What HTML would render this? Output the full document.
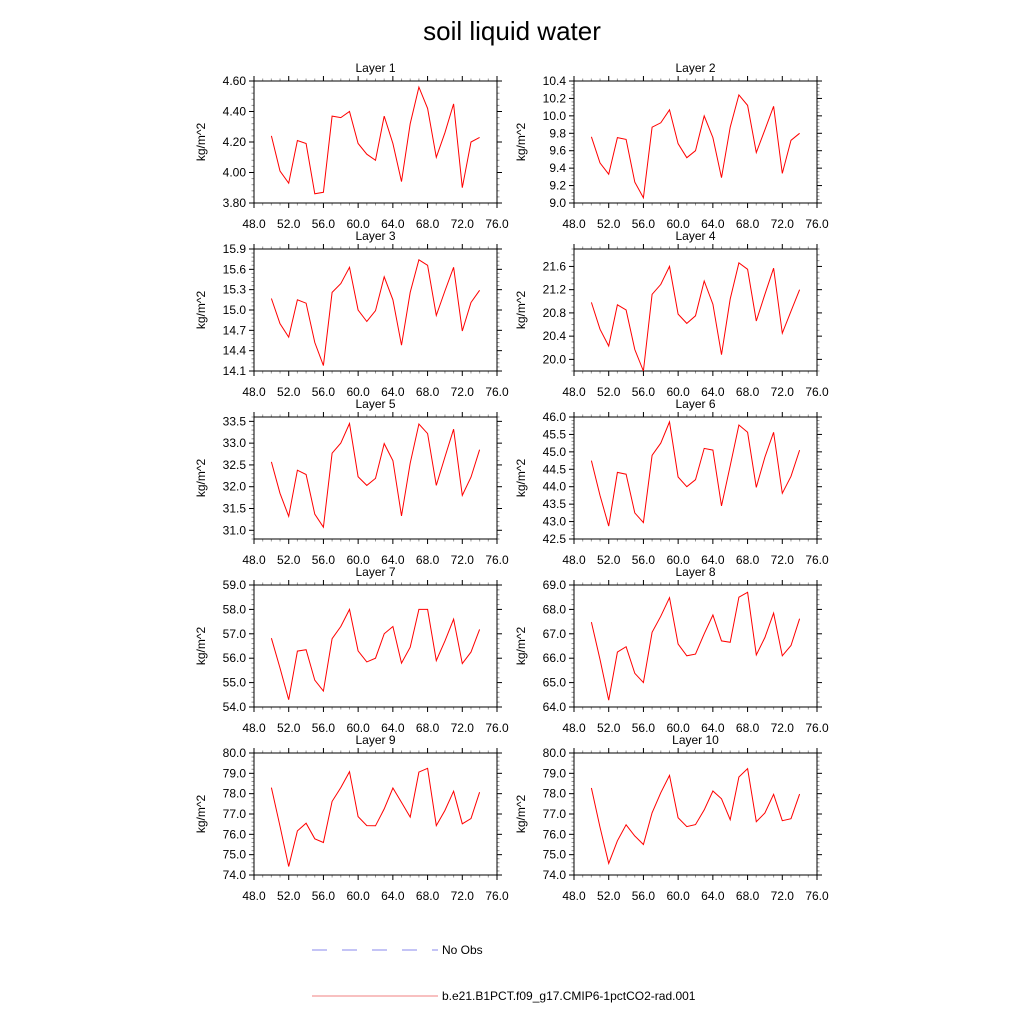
<!DOCTYPE html>
<html><head><meta charset="utf-8"><style>
body{margin:0;background:#fff;}
svg text{font-family:"Liberation Sans",Arial,sans-serif;fill:#000;}
</style></head><body>
<svg id="chart" width="1024" height="1024" viewBox="0 0 1024 1024" xmlns="http://www.w3.org/2000/svg">
<rect width="1024" height="1024" fill="#fff"/>
<text x="512" y="40" font-size="26" text-anchor="middle">soil liquid water</text>
<g id="panels"></g>
<g>
<line x1="312" y1="950" x2="438" y2="950" stroke="#8888ee" stroke-width="1" stroke-dasharray="15,15"/>
<text x="442" y="954" font-size="12">No Obs</text>
<line x1="312" y1="996" x2="438" y2="996" stroke="#f08080" stroke-width="1"/>
<text x="442" y="1000" font-size="12">b.e21.B1PCT.f09_g17.CMIP6-1pctCO2-rad.001</text>
</g>
</svg>
<script>
const years = [50,51,52,53,54,55,56,57,58,59,60,61,62,63,64,65,66,67,68,69,70,71,72,73,74];
const xTicks = [48,52,56,60,64,68,72,76];
const layer1 = [4.24,4.01,3.93,4.21,4.19,3.86,3.87,4.37,4.36,4.40,4.19,4.12,4.08,4.37,4.19,3.94,4.32,4.56,4.42,4.10,4.26,4.45,3.90,4.20,4.23];
const layer2 = [9.76,9.46,9.33,9.75,9.73,9.24,9.06,9.87,9.92,10.07,9.68,9.52,9.60,10.00,9.75,9.29,9.87,10.24,10.12,9.58,9.84,10.11,9.34,9.72,9.80];
const layer3 = [15.17,14.80,14.60,15.15,15.10,14.52,14.18,15.26,15.39,15.63,15.00,14.83,14.99,15.49,15.15,14.48,15.26,15.74,15.66,14.92,15.28,15.63,14.69,15.11,15.29];
const layer4 = [20.98,20.52,20.23,20.94,20.85,20.17,19.80,21.12,21.29,21.60,20.78,20.62,20.75,21.35,20.95,20.08,21.04,21.66,21.55,20.66,21.12,21.57,20.45,20.83,21.20];
const layer5 = [32.57,31.85,31.32,32.38,32.28,31.37,31.07,32.77,33.00,33.45,32.23,32.03,32.19,32.99,32.60,31.33,32.54,33.44,33.22,32.03,32.68,33.32,31.80,32.22,32.85];
const layer6 = [44.75,43.75,42.87,44.41,44.36,43.25,42.97,44.90,45.25,45.86,44.28,44.00,44.20,45.10,45.05,43.45,44.60,45.77,45.56,43.98,44.85,45.56,43.81,44.30,45.05];
const layer7 = [56.82,55.60,54.30,56.29,56.35,55.10,54.65,56.80,57.30,58.00,56.30,55.85,56.00,57.00,57.30,55.80,56.45,58.00,58.00,55.90,56.70,57.60,55.78,56.25,57.18];
const layer8 = [67.48,65.95,64.28,66.25,66.47,65.38,65.00,67.06,67.72,68.48,66.58,66.10,66.17,67.00,67.77,66.71,66.65,68.50,68.70,66.13,66.85,67.85,66.10,66.52,67.62];
const layer9 = [78.30,76.40,74.42,76.17,76.55,75.78,75.60,77.62,78.30,79.08,76.87,76.43,76.42,77.25,78.28,77.57,76.85,79.06,79.25,76.43,77.17,78.12,76.52,76.78,78.07];
const layer10 = [78.28,76.35,74.57,75.68,76.47,75.92,75.50,77.06,78.05,78.90,76.82,76.38,76.48,77.20,78.13,77.75,76.72,78.82,79.23,76.62,77.05,77.97,76.67,76.77,77.98];
const yMin = [3.8,9.0,14.1,19.8,30.8,42.5,54.0,64.0,74.0,74.0];
const yMax = [4.6,10.4,15.9,21.9,33.6,46.0,59.0,69.0,80.0,80.0];
const yTick0 = [3.8,9.0,14.1,20.0,31.0,42.5,54.0,64.0,74.0,74.0];
const yStep = [0.2,0.2,0.3,0.4,0.5,0.5,1.0,1.0,1.0,1.0];
const yDecimals = [2,1,1,1,1,1,1,1,1,1];
const titles = ["Layer 1","Layer 2","Layer 3","Layer 4","Layer 5","Layer 6","Layer 7","Layer 8","Layer 9","Layer 10"];
const series = [layer1,layer2,layer3,layer4,layer5,layer6,layer7,layer8,layer9,layer10];

const NS="http://www.w3.org/2000/svg";
const root=document.getElementById('panels');
function mk(tag,attrs,parent){const e=document.createElementNS(NS,tag);for(const k in attrs)e.setAttribute(k,attrs[k]);parent.appendChild(e);return e;}
const W=243,H=122,xLo=48,xHi=76;
series.forEach((vals,i)=>{
  const col=i%2,row=Math.floor(i/2);
  const L=col?574:254, T=81+row*168;
  const g=mk('g',{},root);
  
  
  const xs=v=>L+(v-xLo)/(xHi-xLo)*W;
  const ys=v=>T+H-(v-yMin[i])/(yMax[i]-yMin[i])*H;
  for(let v=xLo;v<=xHi;v++){
    const maj=(v-xLo)%4===0, len=maj?5:2.5;
    mk('line',{x1:xs(v),x2:xs(v),y1:T+H,y2:T+H+len,stroke:maj?'#000':'#999','stroke-width':1},g);
    mk('line',{x1:xs(v),x2:xs(v),y1:T,y2:T-len,stroke:maj?'#000':'#999','stroke-width':1},g);
  }
  xTicks.forEach(v=>{
    const t=mk('text',{x:xs(v),y:T+H+25,'font-size':12,'text-anchor':'middle'},g);
    
    
    t.textContent=v.toFixed(1);
  });
  const minor=yStep[i]/(i===3?4:5);
  for(let v=yTick0[i]-yStep[i];v<=yMax[i]+1e-6;v+=minor){
    if(v<yMin[i]-1e-6)continue;
    const k=(v-yTick0[i])/yStep[i];
    const maj=Math.abs(k-Math.round(k))<1e-6, len=maj?5:2.5;
    const y=ys(v);
    mk('line',{x1:L,x2:L-len,y1:y,y2:y,stroke:maj?'#000':'#999','stroke-width':1},g);
    mk('line',{x1:L+W,x2:L+W+len,y1:y,y2:y,stroke:maj?'#000':'#999','stroke-width':1},g);
  }
  for(let v=yTick0[i];v<=yMax[i]+1e-6;v+=yStep[i]){
    const t=mk('text',{x:L-8,y:ys(v)+4,'font-size':12,'text-anchor':'end'},g);
    
    
    t.textContent=v.toFixed(yDecimals[i]);
  }
  const box=mk('rect',{x:L,y:T,width:W,height:H,fill:'none',stroke:'#000','stroke-width':1},g);
  
  
  const tt=mk('text',{x:L+W/2,y:T-9,'font-size':12,'text-anchor':'middle'},g);
  
  
  tt.textContent=titles[i];
  const yl=mk('text',{x:0,y:0,'font-size':12,'text-anchor':'middle',transform:`translate(${L-49},${T+H/2}) rotate(-90)`},g);
  
  
  yl.textContent='kg/m^2';
  const pts=vals.map((v,j)=>xs(years[j]).toFixed(1)+','+ys(v).toFixed(1)).join(' ');
  const pl=mk('polyline',{points:pts,fill:'none',stroke:'#ff0000','stroke-width':1},g);
  
  
});
</script>
</body></html>
